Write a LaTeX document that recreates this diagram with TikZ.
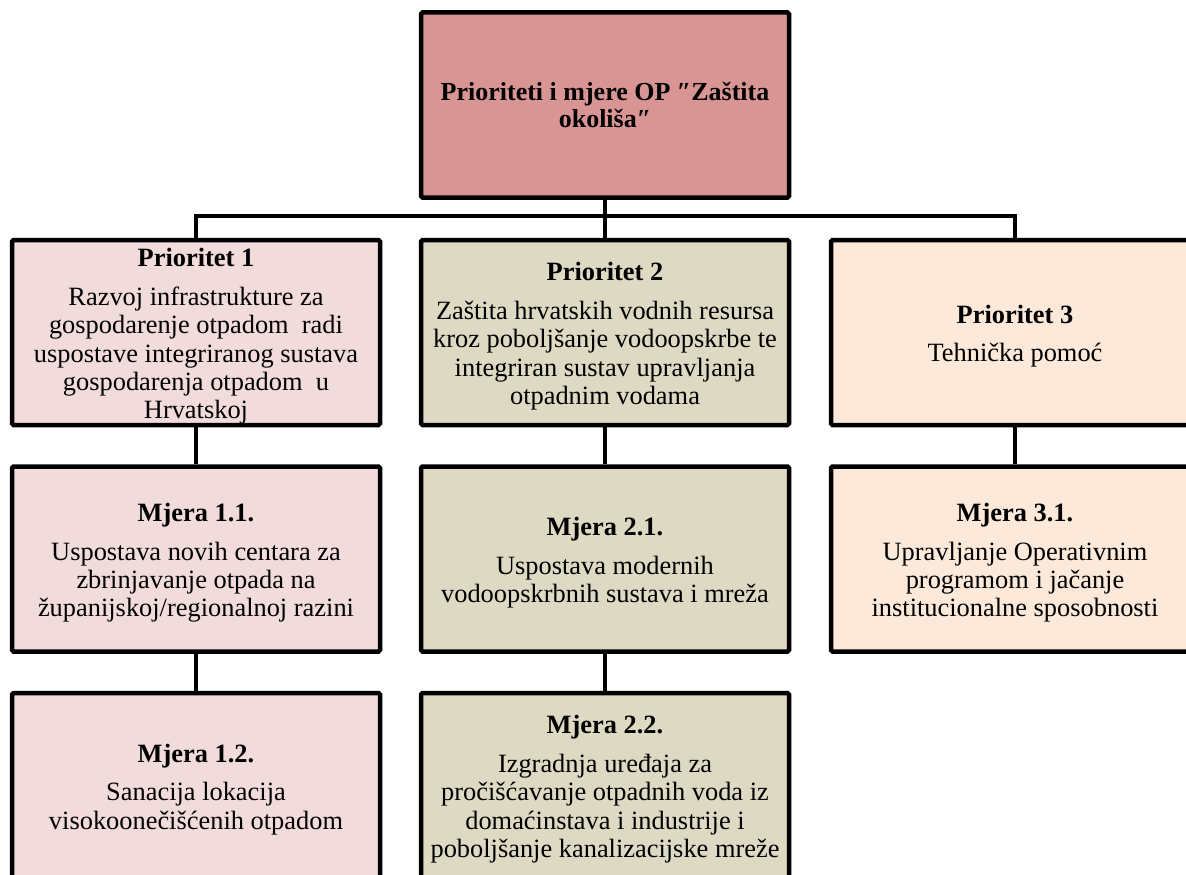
\documentclass[tikz,border=0pt]{standalone}
\usepackage{fontspec}
\setmainfont{Liberation Serif}
\definecolor{topc}{HTML}{D99594}
\definecolor{p1c}{HTML}{F2DBDB}
\definecolor{p2c}{HTML}{DDD9C3}
\definecolor{p3c}{HTML}{FDE9D9}
\newcommand{\mytopgap}{\mbox{}\\[-2.3pt]}
\begin{document}
\begin{tikzpicture}[x=1pt,y=-1pt,
  box/.style={draw=black, line width=4.5pt, rounded corners=1.5pt,
    minimum width=368pt, minimum height=185pt, align=center, inner sep=0pt,
    font=\fontsize{26.4}{28.3}\selectfont},
  link/.style={line width=4pt}]
\useasboundingbox (0,0) rectangle (1186,875);
\clip (0,0) rectangle (1186,875);

\node[box, fill=topc, font=\fontsize{26}{27}\selectfont\bfseries] (top) at (605,105)
  {Prioriteti i mjere OP ″Zaštita\\okoliša″};

\node[box, fill=p1c] (p1) at (196,332.5)
  {\mytopgap\textbf{Prioritet 1}\\[10.5pt]Razvoj infrastrukture za\\gospodarenje otpadom~ radi\\uspostave integriranog sustava\\gospodarenja otpadom~ u\\Hrvatskoj};
\node[box, fill=p2c] (p2) at (605,332.5)
  {\mytopgap\textbf{Prioritet 2}\\[10.5pt]Zaštita hrvatskih vodnih resursa\\kroz poboljšanje vodoopskrbe te\\integriran sustav upravljanja\\otpadnim vodama};
\node[box, fill=p3c] (p3) at (1015,332.5)
  {\mytopgap\textbf{Prioritet 3}\\[10pt]Tehnička pomoć};

\node[box, fill=p1c] (m11) at (196,559)
  {\mytopgap\textbf{Mjera 1.1.}\\[10.5pt]Uspostava novih centara za\\zbrinjavanje otpada na\\županijskoj/regionalnoj razini};
\node[box, fill=p2c] (m21) at (605,559)
  {\mytopgap\textbf{Mjera 2.1.}\\[10.5pt]Uspostava modernih\\vodoopskrbnih sustava i mreža};
\node[box, fill=p3c] (m31) at (1015,559)
  {\mytopgap\textbf{Mjera 3.1.}\\[10pt]Upravljanje Operativnim\\programom i jačanje\\institucionalne sposobnosti};

\node[box, fill=p1c] (m12) at (196,785.5)
  {\mytopgap\textbf{Mjera 1.2.}\\[10.5pt]Sanacija lokacija\\visokoonečišćenih otpadom};
\node[box, fill=p2c] (m22) at (605,785.5)
  {\mytopgap\textbf{Mjera 2.2.}\\[10.5pt]Izgradnja uređaja za\\pročišćavanje otpadnih voda iz\\domaćinstava i industrije i\\poboljšanje kanalizacijske mreže};

\draw[link] (top.south) -- (p2.north);
\draw[link] (p1.north) -- ++(0,-22) -| (p3.north);
\draw[link] (p1.south) -- (m11.north);
\draw[link] (m11.south) -- (m12.north);
\draw[link] (p2.south) -- (m21.north);
\draw[link] (m21.south) -- (m22.north);
\draw[link] (p3.south) -- (m31.north);
\end{tikzpicture}
\end{document}
